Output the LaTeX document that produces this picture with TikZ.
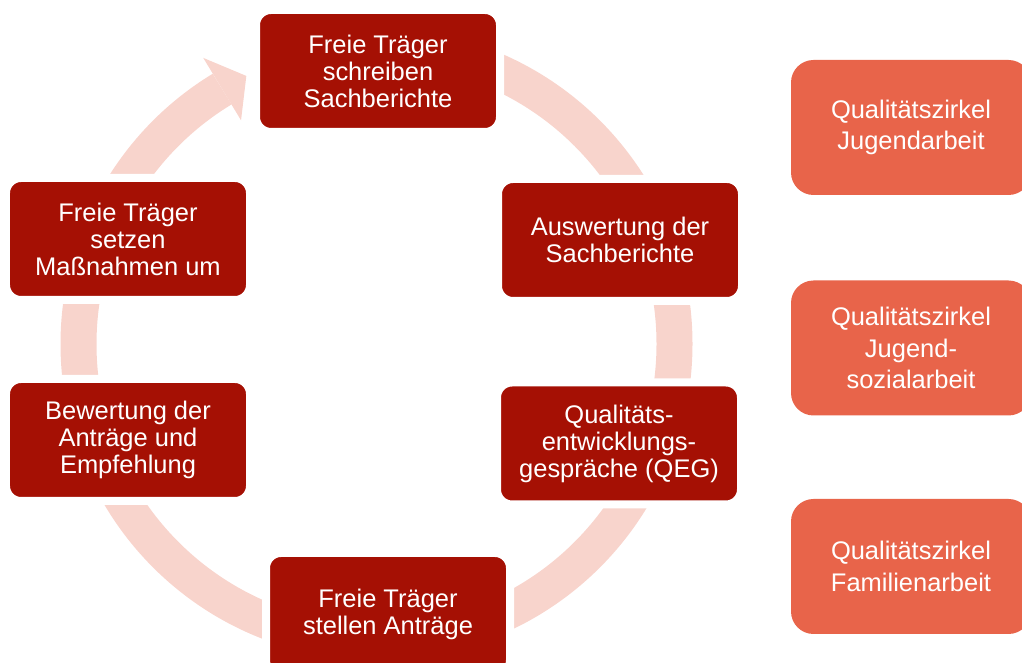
\documentclass[tikz,border=0pt]{standalone}
\usepackage{fontspec}
\setmainfont{Liberation Sans}
\usetikzlibrary{calc}
\definecolor{dunkelrot}{RGB}{165,16,4}
\definecolor{hellrot}{RGB}{232,100,74}
\definecolor{ringrosa}{RGB}{248,212,204}
\tikzset{
  schritt/.style={rectangle, rounded corners=0.3cm, fill=dunkelrot, draw=white, line width=0.16cm,
    minimum width=4.88cm, minimum height=2.44cm, align=center, text=white,
    font=\fontsize{14.5}{15.4}\selectfont},
  zirkel/.style={rectangle, rounded corners=0.45cm, fill=hellrot, minimum width=4.8cm,
    minimum height=2.7cm, align=center, text=white, font=\fontsize{14.5}{17.9}\selectfont}
}
\begin{document}
\begin{tikzpicture}[scale=1, line join=round]
	\def\mx{7.53} \def\my{6.38} % Mittelpunkt
	\def\r{5.96} \def\w{0.72}
	\useasboundingbox (0,0) rectangle (20.44,13.26);
	\clip (0,0) rectangle (20.44,13.26);
	% Kreispfeil
	\draw[ringrosa, line width=\w cm] (\mx,\my) ++(90:\r) arc[start angle=90, end angle=-238.8, radius=\r];
	\fill[ringrosa] ($(\mx,\my)+(121.2:{\r+0.73})$) -- ($(\mx,\my)+(115.9:\r)$) -- ($(\mx,\my)+(121.2:{\r-0.73})$) -- cycle;
	% Schritte
	\node[schritt] (schreiben) at (7.56,11.84) {Freie Träger\\schreiben\\Sachberichte};
	\node[schritt] (auswertung) at (12.40,8.46) {Auswertung der\\Sachberichte};
	\node[schritt] (qeg) at (12.38,4.39) {Qualitäts-\\entwicklungs-\\gespräche (QEG)};
	\node[schritt] (antraege) at (7.76,0.98) {Freie Träger\\stellen Anträge};
	\node[schritt] (bewertung) at (2.56,4.46) {Bewertung der\\Anträge und\\Empfehlung};
	\node[schritt] (massnahmen) at (2.56,8.48) {Freie Träger\\setzen\\Maßnahmen um};
	% Qualitätszirkel
	\node[zirkel] (zjugend) at (18.22,10.71) {Qualitätszirkel\\Jugendarbeit};
	\node[zirkel] (zsozial) at (18.22,6.30) {Qualitätszirkel\\Jugend-\\sozialarbeit};
	\node[zirkel] (zfamilie) at (18.22,1.93) {Qualitätszirkel\\Familienarbeit};
\end{tikzpicture}
\end{document}
